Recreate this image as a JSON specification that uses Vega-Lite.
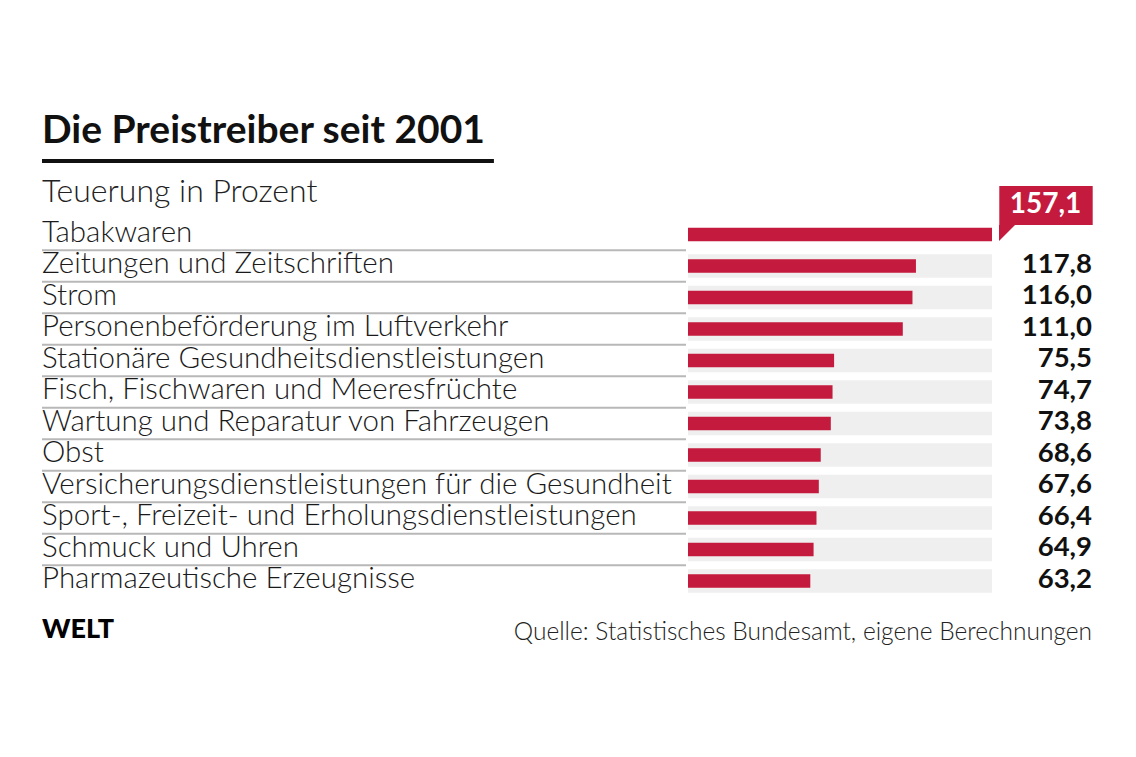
{
  "$schema": "https://vega.github.io/schema/vega-lite/v6.json",
  "autosize": {"type": "none"},
  "padding": {"left": 42, "top": 218.75, "right": 44, "bottom": 160.25},
  "width": 1050,
  "height": 378,
  "background": "#ffffff",
  "config": {"view": {"stroke": null}, "axis": {"disable": true}},
  "data": {
    "values": [
      {"cat": "Tabakwaren", "value": 157.1, "label": "157,1"},
      {"cat": "Zeitungen und Zeitschriften", "value": 117.8, "label": "117,8"},
      {"cat": "Strom", "value": 116.0, "label": "116,0"},
      {"cat": "Personenbeförderung im Luftverkehr", "value": 111.0, "label": "111,0"},
      {"cat": "Stationäre Gesundheitsdienstleistungen", "value": 75.5, "label": "75,5"},
      {"cat": "Fisch, Fischwaren und Meeresfrüchte", "value": 74.7, "label": "74,7"},
      {"cat": "Wartung und Reparatur von Fahrzeugen", "value": 73.8, "label": "73,8"},
      {"cat": "Obst", "value": 68.6, "label": "68,6"},
      {"cat": "Versicherungsdienstleistungen für die Gesundheit", "value": 67.6, "label": "67,6"},
      {"cat": "Sport-, Freizeit- und Erholungsdienstleistungen", "value": 66.4, "label": "66,4"},
      {"cat": "Schmuck und Uhren", "value": 64.9, "label": "64,9"},
      {"cat": "Pharmazeutische Erzeugnisse", "value": 63.2, "label": "63,2"}
    ]
  },
  "layer": [
    {
      "transform": [{"filter": "datum.cat !== 'Tabakwaren'"}],
      "mark": {"type": "bar", "color": "#efefef", "height": {"band": 0.75}},
      "encoding": {
        "x": {"datum": 0, "type": "quantitative", "scale": {"domain": [-333.84, 208.78], "nice": false, "zero": false}},
        "x2": {"datum": 157.1},
        "y": {"field": "cat", "type": "nominal", "scale": {"domain": ["Tabakwaren", "Zeitungen und Zeitschriften", "Strom", "Personenbeförderung im Luftverkehr", "Stationäre Gesundheitsdienstleistungen", "Fisch, Fischwaren und Meeresfrüchte", "Wartung und Reparatur von Fahrzeugen", "Obst", "Versicherungsdienstleistungen für die Gesundheit", "Sport-, Freizeit- und Erholungsdienstleistungen", "Schmuck und Uhren", "Pharmazeutische Erzeugnisse"], "paddingInner": 0, "paddingOuter": 0}}
      }
    },
    {
      "mark": {"type": "bar", "color": "#c41a3d", "height": {"band": 0.43}},
      "encoding": {
        "x": {"field": "value", "type": "quantitative", "stack": null},
        "x2": {"datum": 0},
        "y": {"field": "cat", "type": "nominal"}
      }
    },
    {
      "transform": [{"filter": "datum.cat !== 'Pharmazeutische Erzeugnisse'"}],
      "mark": {"type": "rule", "color": "#b8b8b8", "strokeWidth": 2},
      "encoding": {
        "x": {"datum": -333.84, "type": "quantitative"},
        "x2": {"datum": -1.03},
        "y": {"field": "cat", "type": "nominal", "bandPosition": 1}
      }
    },
    {
      "mark": {"type": "text", "align": "left", "baseline": "alphabetic", "font": "Lato", "fontSize": 29.5, "fontWeight": 300, "color": "#1a1a1a", "dy": 7.3},
      "encoding": {
        "x": {"datum": -333.84, "type": "quantitative"},
        "y": {"field": "cat", "type": "nominal"},
        "text": {"field": "cat"}
      }
    },
    {
      "transform": [{"filter": "datum.cat !== 'Tabakwaren'"}],
      "mark": {"type": "text", "align": "right", "baseline": "alphabetic", "font": "Lato", "fontSize": 27.5, "fontWeight": "bold", "color": "#111111", "dy": 6.7},
      "encoding": {
        "x": {"datum": 208.78, "type": "quantitative"},
        "y": {"field": "cat", "type": "nominal"},
        "text": {"field": "label"}
      }
    },
    {
      "transform": [{"filter": "datum.cat === 'Tabakwaren'"}],
      "mark": {"type": "bar", "color": "#c41a3d", "height": 39, "yOffset": -29},
      "encoding": {
        "x": {"datum": 160.87, "type": "quantitative"},
        "x2": {"datum": 209.14},
        "y": {"field": "cat", "type": "nominal"}
      }
    },
    {
      "transform": [{"filter": "datum.cat === 'Tabakwaren'"}],
      "mark": {"type": "point", "filled": true, "opacity": 1, "color": "#c41a3d", "shape": "M-1,-1L1,-1L-1,1Z", "size": 256, "yOffset": -1.5},
      "encoding": {
        "x": {"datum": 164.85, "type": "quantitative"},
        "y": {"field": "cat", "type": "nominal"}
      }
    },
    {
      "transform": [{"filter": "datum.cat === 'Tabakwaren'"}],
      "mark": {"type": "text", "align": "center", "baseline": "alphabetic", "font": "Lato", "fontSize": 28, "fontWeight": "bold", "color": "#ffffff", "yOffset": -21.2},
      "encoding": {
        "x": {"datum": 184.75, "type": "quantitative"},
        "y": {"field": "cat", "type": "nominal"},
        "text": {"field": "label"}
      }
    },
    {
      "transform": [{"filter": "datum.cat === 'Tabakwaren'"}],
      "mark": {"type": "text", "align": "left", "baseline": "alphabetic", "font": "Lato", "fontSize": 39, "fontWeight": "bold", "color": "#111111", "yOffset": -91.8},
      "encoding": {
        "x": {"datum": -333.84, "type": "quantitative"},
        "y": {"field": "cat", "type": "nominal"},
        "text": {"value": "Die Preistreiber seit 2001"}
      }
    },
    {
      "transform": [{"filter": "datum.cat === 'Tabakwaren'"}],
      "mark": {"type": "text", "align": "left", "baseline": "alphabetic", "font": "Lato", "fontSize": 32, "fontWeight": 300, "color": "#222222", "yOffset": -32.8},
      "encoding": {
        "x": {"datum": -333.84, "type": "quantitative"},
        "y": {"field": "cat", "type": "nominal"},
        "text": {"value": "Teuerung in Prozent"}
      }
    },
    {
      "transform": [{"filter": "datum.cat === 'Tabakwaren'"}],
      "mark": {"type": "rule", "color": "#111111", "strokeWidth": 4, "yOffset": -73.5},
      "encoding": {
        "x": {"datum": -333.84, "type": "quantitative"},
        "x2": {"datum": -100.3},
        "y": {"field": "cat", "type": "nominal", "bandPosition": 0.5}
      }
    },
    {
      "transform": [{"filter": "datum.cat === 'Pharmazeutische Erzeugnisse'"}],
      "mark": {"type": "text", "align": "left", "baseline": "alphabetic", "font": "Lato", "fontSize": 27, "fontWeight": 900, "color": "#000000", "yOffset": 57.3},
      "encoding": {
        "x": {"datum": -333.84, "type": "quantitative"},
        "y": {"field": "cat", "type": "nominal"},
        "text": {"value": "WELT"}
      }
    },
    {
      "transform": [{"filter": "datum.cat === 'Pharmazeutische Erzeugnisse'"}],
      "mark": {"type": "text", "align": "right", "baseline": "alphabetic", "font": "Lato", "fontSize": 24.5, "fontWeight": 300, "color": "#222222", "yOffset": 59},
      "encoding": {
        "x": {"datum": 208.78, "type": "quantitative"},
        "y": {"field": "cat", "type": "nominal"},
        "text": {"value": "Quelle: Statistisches Bundesamt, eigene Berechnungen"}
      }
    }
  ]
}
